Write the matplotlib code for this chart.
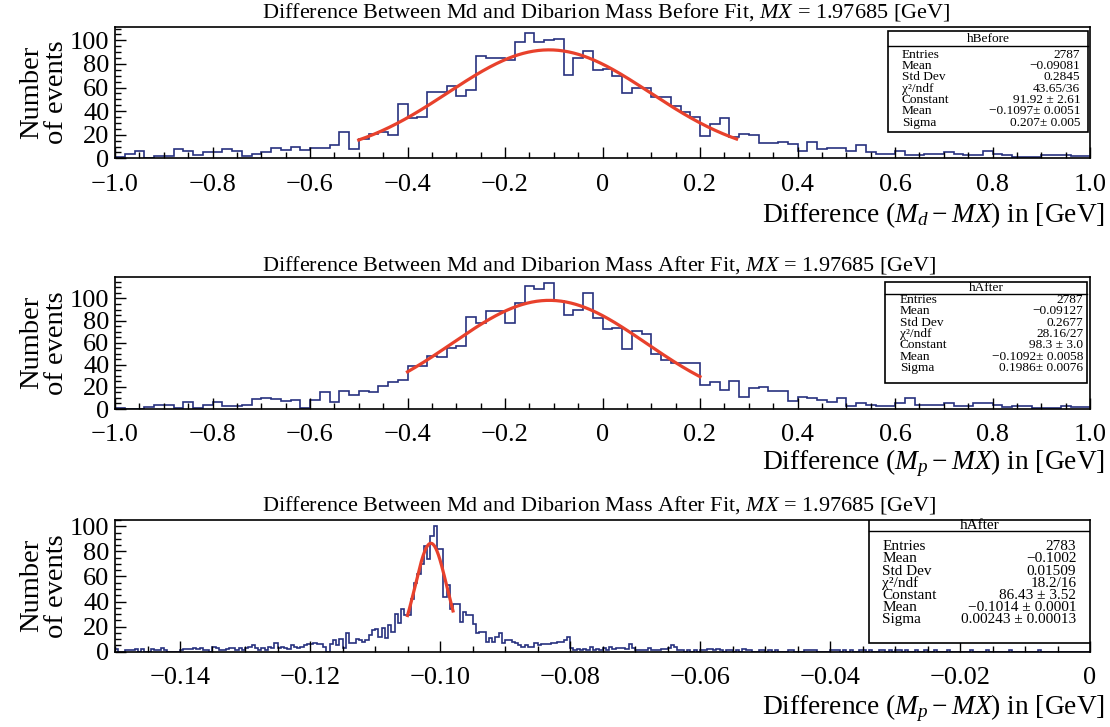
# Md / dibarion mass difference histograms (ROOT-style look)
import numpy as np
import matplotlib.pyplot as plt
from matplotlib.patches import Rectangle
from matplotlib.ticker import MultipleLocator

plt.rcParams['font.family'] = ['Liberation Serif', 'DejaVu Serif']
plt.rcParams['mathtext.fontset'] = 'custom'
plt.rcParams['mathtext.rm'] = 'Liberation Serif'
plt.rcParams['mathtext.it'] = 'Liberation Serif:italic'

# --- Data ---

# Top: before fit, 100 bins in [-1, 1]
before_counts = [
    1, 4, 6, 0, 2, 2, 8, 6, 3, 5,
    5, 8, 6, 2, 4, 5, 9, 7, 10, 7,
    9, 9, 11, 22, 8, 16, 21, 22, 20, 46,
    34, 35, 56, 56, 61, 53, 58, 87, 85, 85,
    83, 99, 106, 99, 100, 101, 71, 85, 91, 75,
    76, 70, 55, 60, 60, 52, 52, 44, 39, 35,
    19, 29, 34, 18, 21, 20, 13, 13, 14, 12,
    6, 14, 8, 9, 9, 6, 11, 5, 4, 4,
    6, 3, 3, 4, 4, 5, 4, 3, 3, 6,
    4, 3, 1, 1, 1, 3, 3, 3, 2, 2,
]

# Middle: after fit, 100 bins in [-1, 1]
after_counts = [
    1, 0, 0, 2, 4, 4, 1, 6, 1, 4,
    6, 3, 3, 4, 9, 10, 9, 7, 8, 1,
    8, 15, 6, 16, 13, 16, 15, 21, 24, 26,
    39, 39, 48, 47, 55, 57, 83, 78, 89, 89,
    78, 96, 111, 109, 114, 98, 85, 90, 105, 82,
    72, 73, 54, 71, 68, 50, 44, 42, 42, 42,
    22, 24, 17, 25, 11, 19, 20, 16, 16, 7,
    11, 10, 8, 6, 10, 3, 5, 4, 3, 3,
    5, 10, 4, 4, 4, 5, 3, 3, 5, 5,
    4, 2, 3, 3, 1, 1, 1, 3, 2, 2,
]

# Bottom: after fit, zoomed, 300 bins in [-0.15, 0]
zoom_counts = [
    2, 0, 0, 1, 1, 1, 2, 0, 2, 0,
    0, 2, 1, 1, 3, 1, 0, 0, 0, 0,
    1, 2, 2, 2, 3, 2, 3, 1, 1, 0,
    4, 3, 1, 1, 2, 3, 3, 1, 3, 1,
    3, 4, 5, 3, 1, 3, 1, 4, 3, 7,
    3, 4, 3, 2, 5, 4, 3, 4, 5, 6,
    6, 7, 6, 6, 4, 0, 6, 9, 5, 10,
    3, 15, 7, 7, 10, 9, 8, 9, 13, 17,
    18, 12, 19, 11, 21, 16, 30, 23, 34, 29,
    29, 42, 55, 62, 70, 84, 74, 92, 100, 82,
    82, 44, 53, 34, 38, 38, 24, 32, 29, 29,
    22, 15, 16, 16, 8, 11, 8, 12, 15, 7,
    9, 9, 8, 7, 5, 4, 5, 4, 4, 7,
    5, 6, 6, 6, 7, 7, 8, 8, 9, 12,
    3, 1, 2, 1, 2, 1, 4, 1, 2, 1,
    3, 1, 4, 2, 3, 3, 3, 2, 6, 3,
    1, 1, 1, 1, 3, 1, 1, 1, 2, 2,
    3, 5, 4, 1, 1, 0, 1, 0, 1, 0,
    1, 1, 2, 2, 1, 2, 1, 0, 1, 1,
    0, 1, 0, 2, 1, 1, 0, 0, 1, 1,
    0, 1, 0, 1, 0, 0, 0, 1, 1, 0,
    0, 0, 1, 1, 1, 1, 0, 0, 0, 0,
    1, 1, 1, 0, 1, 0, 1, 0, 0, 1,
    1, 0, 1, 0, 0, 1, 1, 0, 1, 0,
    1, 1, 0, 1, 0, 0, 1, 0, 0, 1,
    0, 0, 1, 0, 0, 0, 1, 0, 0, 0,
    0, 0, 0, 1, 0, 0, 0, 0, 1, 0,
    0, 0, 0, 0, 0, 1, 0, 0, 0, 0,
    0, 0, 0, 0, 1, 0, 0, 0, 0, 0,
    0, 0, 0, 0, 0, 0, 0, 0, 0, 0,
]

# Gaussian fit parameters (constant, mean, sigma) and fit ranges
before_fit = (91.92, -0.1097, 0.207)
before_fit_range = (-0.5, 0.275)
after_fit = (98.3, -0.1092, 0.1986)
after_fit_range = (-0.4, 0.2)
zoom_fit = (86.43, -0.1014, 0.00243)
zoom_fit_range = (-0.105, -0.098)

# Stat box contents
stat_labels = ["Entries", "Mean", "Std Dev", "\u03c7\u00b2/ndf", "Constant", "Mean", "Sigma"]
before_stats = ["2787", "\u22120.09081", "0.2845", "43.65/36",
                "91.92 \u00b1 2.61", "\u22120.1097\u00b1 0.0051", "0.207\u00b1 0.005"]
after_stats = ["2787", "\u22120.09127", "0.2677", "28.16/27",
               "98.3 \u00b1 3.0", "\u22120.1092\u00b1 0.0058", "0.1986\u00b1 0.0076"]
zoom_stats = ["2783", "\u22120.1002", "0.01509", "18.2/16",
              "86.43 \u00b1 3.52", "\u22120.1014 \u00b1 0.0001", "0.00243 \u00b1 0.00013"]

# Tick labels
wide_ticks = [-1.0, -0.8, -0.6, -0.4, -0.2, 0.0, 0.2, 0.4, 0.6, 0.8, 1.0]
wide_ticklabels = ["\u22121.0", "\u22120.8", "\u22120.6", "\u22120.4", "\u22120.2", "0",
                   "0.2", "0.4", "0.6", "0.8", "1.0"]
zoom_ticks = [-0.14, -0.12, -0.10, -0.08, -0.06, -0.04, -0.02, 0.0]
zoom_ticklabels = ["\u22120.14", "\u22120.12", "\u22120.10", "\u22120.08",
                   "\u22120.06", "\u22120.04", "\u22120.02", "0"]
y_ticks = [0, 20, 40, 60, 80, 100]

title_before = "Difference Between Md and Dibarion Mass Before Fit, $MX$ = 1.97685 [GeV]"
title_after = "Difference Between Md and Dibarion Mass After Fit, $MX$ = 1.97685 [GeV]"
xlabel_d = "Difference ($M_d - MX$) in [GeV]"
xlabel_p = "Difference ($M_p - MX$) in [GeV]"

# --- Style ---
hist_color = "#27317f"
fit_color = "#e8412c"
W, H = 1110, 727

fig = plt.figure(figsize=(W / 100, H / 100), dpi=100)


def gauss(x, c, m, s):
    return c * np.exp(-0.5 * ((x - m) / s) ** 2)


def draw_panel(top_px, bottom_px, counts, lo, hi, fit, fit_range,
               ticks, ticklabels, minor, title, title_y, xlabel, xlabel_y,
               name, stats, box, rows, fs):
    ax = fig.add_axes([115 / W, 1 - bottom_px / H, 975 / W, (bottom_px - top_px) / H])
    edges = np.linspace(lo, hi, len(counts) + 1)
    ax.stairs(counts, edges, baseline=None, color=hist_color, lw=1.2)
    xf = np.linspace(fit_range[0], fit_range[1], 300)
    ax.plot(xf, gauss(xf, *fit), color=fit_color, lw=2.3, zorder=4)

    ax.set_xlim(lo, hi)
    ax.set_ylim(0, 1.05 * max(counts))
    ax.set_xticks(ticks)
    ax.set_xticklabels(ticklabels)
    ax.set_yticks(y_ticks)
    ax.xaxis.set_minor_locator(MultipleLocator(minor))
    ax.yaxis.set_minor_locator(MultipleLocator(5))
    ax.tick_params(which='both', direction='in', top=False, right=False, width=1.0)
    ax.tick_params(which='major', length=8, labelsize=19)
    ax.tick_params(which='minor', length=4.5)
    ax.tick_params(axis='x', pad=11)
    ax.tick_params(axis='y', pad=4)
    for sp in ax.spines.values():
        sp.set_linewidth(1.2)

    fig.text(262 / W, 1 - title_y / H, title, ha='left', va='center', fontsize=16)
    fig.text(1105 / W, 1 - xlabel_y / H, xlabel, ha='right', va='center', fontsize=19.7)
    fig.text(44 / W, 1 - (top_px + bottom_px) / 2 / H, "Number\nof events",
             rotation=90, ha='center', va='center', fontsize=20.5,
             multialignment='center', linespacing=1.0)

    # stat box
    x0, x1, y0, y1, yh = box
    ax.add_patch(Rectangle((x0, y0), x1 - x0, y1 - y0, transform=ax.transAxes,
                           facecolor='white', edgecolor='black', lw=1.2, zorder=5))
    ax.plot([x0, x1], [yh, yh], transform=ax.transAxes, color='black', lw=1.0, zorder=6)
    ax.text((x0 + x1) / 2, (yh + y1) / 2, name, transform=ax.transAxes,
            ha='center', va='center', fontsize=fs, zorder=7)
    lx, rx, ytop, ybot = rows
    ys = np.linspace(ytop, ybot, len(stat_labels))
    for lab, val, yy in zip(stat_labels, stats, ys):
        ax.text(lx, yy, lab, transform=ax.transAxes, ha='left', va='center', fontsize=fs, zorder=7)
        ax.text(rx, yy, val, transform=ax.transAxes, ha='right', va='center', fontsize=fs, zorder=7)
    return ax


# --- Panels ---
draw_panel(27, 158.3, before_counts, -1, 1, before_fit, before_fit_range,
           wide_ticks, wide_ticklabels, 0.05, title_before, 12, xlabel_d, 215,
           "hBefore", before_stats,
           (0.793, 0.998, 0.198, 0.967, 0.856), (0.807, 0.99, 0.79, 0.27), 9.6)

draw_panel(276.7, 409, after_counts, -1, 1, after_fit, after_fit_range,
           wide_ticks, wide_ticklabels, 0.05, title_after, 265, xlabel_p, 463,
           "hAfter", after_stats,
           (0.790, 0.997, 0.194, 0.962, 0.869), (0.805, 0.993, 0.824, 0.308), 9.6)

draw_panel(520, 651.7, zoom_counts, -0.15, 0, zoom_fit, zoom_fit_range,
           zoom_ticks, zoom_ticklabels, 0.005, title_after, 505, xlabel_p, 708,
           "hAfter", zoom_stats,
           (0.773, 1.0, 0.064, 1.0, 0.917), (0.787, 0.986, 0.797, 0.241), 11)

fig.savefig("out.png", dpi=100)
